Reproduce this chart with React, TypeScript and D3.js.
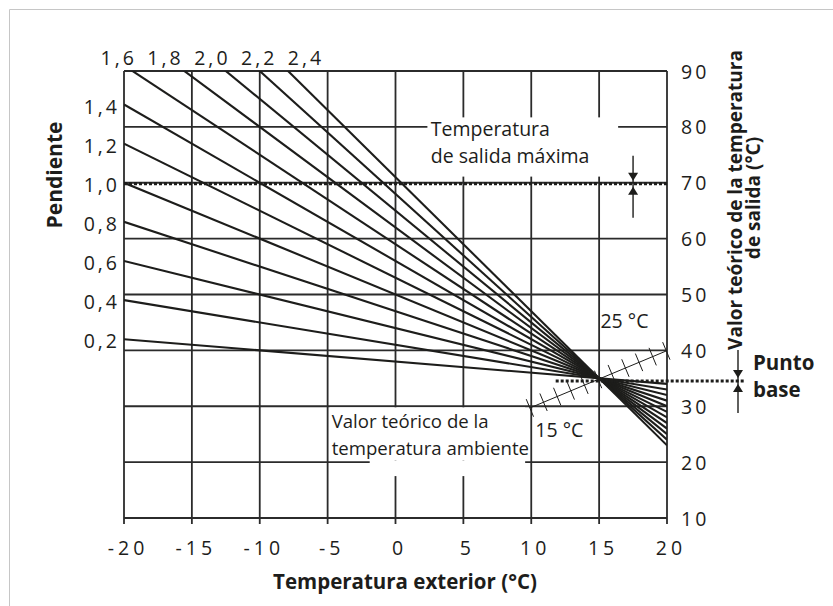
import { line as d3Line, scaleLinear } from "d3";

// axes
const outdoorTicks = [-20, -15, -10, -5, 0, 5, 10, 15, 20];
const outdoorLabels = ["-20", "-15", "-10", "-5", "0", "5", "10", "15", "20"];
const flowTicks = [10, 20, 30, 40, 50, 60, 70, 80, 90];
const flowLabels = ["10", "20", "30", "40", "50", "60", "70", "80", "90"];

// heating curves: flow temperature read at -20 °C and at +20 °C outside
const slopes = [0.2, 0.4, 0.6, 0.8, 1.0, 1.2, 1.4, 1.6, 1.8, 2.0, 2.2, 2.4];
const flowAtMinus20 = [42, 49, 56, 63, 70, 77, 84, 91, 98, 105, 112, 119];
const flowAtPlus20 = [34, 33, 32, 31, 30, 29, 28, 27, 26, 25, 24, 23];

const leftSlopeLabels = ["0,2", "0,4", "0,6", "0,8", "1,0", "1,2", "1,4"];
const topSlopeLabels = ["1,6", "1,8", "2,0", "2,2", "2,4"];

// room set-point scale (hatched line)
const roomTicks = [15, 16, 17, 18, 19, 20, 21, 22, 23, 24, 25];
const roomEndLabels = ["15 °C", "25 °C"];

const maxFlowLevel = 69.8;
const basePointLevel = 34.5;

const W = 833;
const H = 606;
const PLOT = { left: 124, right: 667, top: 71, bottom: 518 };

const INK = "#1d1d1b";
const FONT = "'Open Sans', 'Noto Sans', sans-serif";

export default function App() {
  const x = scaleLinear().domain([-20, 20]).range([PLOT.left, PLOT.right]);
  const y = scaleLinear().domain([10, 90]).range([PLOT.bottom, PLOT.top]);

  // hatched room temperature line, 15..25 °C, in outdoor/flow units
  const roomOut = scaleLinear().domain([15, 25]).range([9.9, 19.95]);
  const roomFlow = scaleLinear().domain([15, 25]).range([29.7, 39.9]);

  const seg = d3Line<[number, number]>();

  const curves = slopes.map((s, i) =>
    seg([
      [x(-20), y(flowAtMinus20[i])],
      [x(20), y(flowAtPlus20[i])],
    ]) ?? "",
  );

  const hx0 = x(roomOut(15));
  const hy0 = y(roomFlow(15));
  const hx1 = x(roomOut(25));
  const hy1 = y(roomFlow(25));
  const len = Math.hypot(hx1 - hx0, hy1 - hy0);
  const nx = -(hy1 - hy0) / len;
  const ny = (hx1 - hx0) / len;
  const tickHalf = 9.5;

  const ls = 3; // letter spacing of numeric labels
  const numStyle = { fontFamily: FONT, fontSize: 19.5, letterSpacing: ls, fill: INK } as const;
  const textStyle = { fontFamily: FONT, fontSize: 19.5, fill: INK } as const;
  const boldStyle = { fontFamily: FONT, fontSize: 19, fontWeight: 700, fill: INK } as const;

  const arrow = (cx: number, cy: number, top: number, bottom: number) => {
    const tip1 = cy - 3;
    const tip2 = cy + 3;
    return (
      <g>
        <line x1={cx} x2={cx} y1={top} y2={bottom} stroke={INK} strokeWidth={1.4} />
        <path d={`M${cx - 5},${tip1 - 8}L${cx + 5},${tip1 - 8}L${cx},${tip1}Z`} fill={INK} />
        <path d={`M${cx - 5},${tip2 + 8}L${cx + 5},${tip2 + 8}L${cx},${tip2}Z`} fill={INK} />
      </g>
    );
  };

  const maxY = y(maxFlowLevel);
  const baseY = y(basePointLevel);

  return (
    <svg
      width={W}
      height={H}
      viewBox={`0 0 ${W} ${H}`}
      style={{ position: "fixed", left: 0, top: 0, background: "#fff", display: "block" }}
    >
      <defs>
        <clipPath id="plot-clip">
          <rect x={PLOT.left} y={PLOT.top} width={PLOT.right - PLOT.left} height={PLOT.bottom - PLOT.top} />
        </clipPath>
      </defs>
      <rect width={W} height={H} fill="#fff" />
      {/* figure frame */}
      <line x1={9.5} x2={W} y1={9.5} y2={9.5} stroke="#c6c6c6" strokeWidth={1} />
      <line x1={9.5} x2={9.5} y1={9.5} y2={H} stroke="#c6c6c6" strokeWidth={1} />

      {/* grid */}
      <g stroke="#2b2b2b" strokeWidth={1.8}>
        {outdoorTicks.map((t) => (
          <line key={`v${t}`} x1={x(t)} x2={x(t)} y1={PLOT.top} y2={PLOT.bottom + 6} />
        ))}
        {flowTicks.map((t) => (
          <line key={`h${t}`} x1={PLOT.left} x2={PLOT.right} y1={y(t)} y2={y(t)} />
        ))}
      </g>

      {/* label boxes cut the grid */}
      <rect x={x(2.35)} y={y(81.7)} width={x(16.4) - x(2.35)} height={y(71.1) - y(81.7)} fill="#fff" />
      <rect x={x(-4.85)} y={y(29.8)} width={x(9.55) - x(-4.85)} height={y(20.3) - y(29.8)} fill="#fff" />
      <rect x={x(-1.9)} y={y(20.3)} width={x(9.55) - x(-1.9)} height={y(17.5) - y(20.3)} fill="#fff" />

      {/* heating curves */}
      <g clipPath="url(#plot-clip)" fill="none" stroke={INK} strokeWidth={2.1} strokeLinecap="butt">
        {curves.map((d, i) => (
          <path key={slopes[i]} d={d} />
        ))}
      </g>

      {/* hatched room temperature line */}
      <g stroke={INK} strokeWidth={1}>
        <line x1={hx0} y1={hy0} x2={hx1} y2={hy1} />
        {roomTicks.map((r) => {
          const px = x(roomOut(r));
          const py = y(roomFlow(r));
          return (
            <line
              key={`r${r}`}
              x1={px - nx * tickHalf}
              y1={py - ny * tickHalf}
              x2={px + nx * tickHalf}
              y2={py + ny * tickHalf}
            />
          );
        })}
      </g>
      <text x={x(10.3)} y={y(24.5)} style={textStyle}>
        {roomEndLabels[0]}
      </text>
      <text x={x(15.1)} y={y(44)} style={textStyle}>
        {roomEndLabels[1]}
      </text>

      {/* max flow temperature */}
      <line
        x1={PLOT.left}
        x2={PLOT.right}
        y1={maxY}
        y2={maxY}
        stroke={INK}
        strokeWidth={3}
        strokeDasharray="3 2"
      />
      {arrow(x(17.5), maxY, maxY - 28, maxY + 34)}
      <text x={x(2.6)} y={y(78.3)} style={textStyle}>
        Temperatura
      </text>
      <text x={x(2.6)} y={y(73.6)} style={textStyle}>
        de salida máxima
      </text>

      {/* base point */}
      <line
        x1={x(11.8)}
        x2={PLOT.right + 78}
        y1={baseY}
        y2={baseY}
        stroke={INK}
        strokeWidth={3}
        strokeDasharray="3 2"
      />
      {arrow(PLOT.right + 71, baseY, baseY - 31, baseY + 32)}
      <text x={PLOT.right + 86} y={370} style={{ ...boldStyle, fontSize: 20.5 }}>
        Punto
      </text>
      <text x={PLOT.right + 86} y={397} style={{ ...boldStyle, fontSize: 20.5 }}>
        base
      </text>

      {/* room set-point caption */}
      <text x={x(-4.7)} y={y(26.1)} style={{ ...textStyle, fontSize: 18.6 }}>
        Valor teórico de la
      </text>
      <text x={x(-4.7)} y={y(21.3)} style={{ ...textStyle, fontSize: 18.6 }}>
        temperatura ambiente
      </text>

      {/* slope labels */}
      {leftSlopeLabels.map((lab, i) => (
        <text
          key={lab}
          x={PLOT.left - 7 + ls}
          y={y(flowAtMinus20[i]) + 1.5}
          textAnchor="end"
          dominantBaseline="central"
          style={numStyle}
        >
          {lab}
        </text>
      ))}
      {topSlopeLabels.map((lab, i) => (
        <text key={lab} x={x(-20.5 + i * 3.45) + ls / 2} y={65} textAnchor="middle" style={numStyle}>
          {lab}
        </text>
      ))}

      {/* axis labels */}
      {outdoorTicks.map((t, i) => (
        <text
          key={`xl${t}`}
          x={x(t) + 2 + 2}
          y={555}
          textAnchor="middle"
          style={{ ...numStyle, letterSpacing: 4 }}
        >
          {outdoorLabels[i]}
        </text>
      ))}
      {flowTicks.map((t, i) => (
        <text key={`yl${t}`} x={PLOT.right + 14} y={y(t)} dominantBaseline="central" style={numStyle}>
          {flowLabels[i]}
        </text>
      ))}

      {/* axis titles */}
      <text x={405} y={589} textAnchor="middle" style={{ ...boldStyle, fontSize: 20.5 }}>
        Temperatura exterior (°C)
      </text>
      <text
        transform={`translate(62,175) rotate(-90)`}
        textAnchor="middle"
        style={{ ...boldStyle, fontSize: 21 }}
      >
        Pendiente
      </text>
      <text transform={`translate(742,200) rotate(-90)`} textAnchor="middle" style={boldStyle}>
        Valor teórico de la temperatura
      </text>
      <text transform={`translate(760,198) rotate(-90)`} textAnchor="middle" style={boldStyle}>
        de salida (°C)
      </text>
    </svg>
  );
}
